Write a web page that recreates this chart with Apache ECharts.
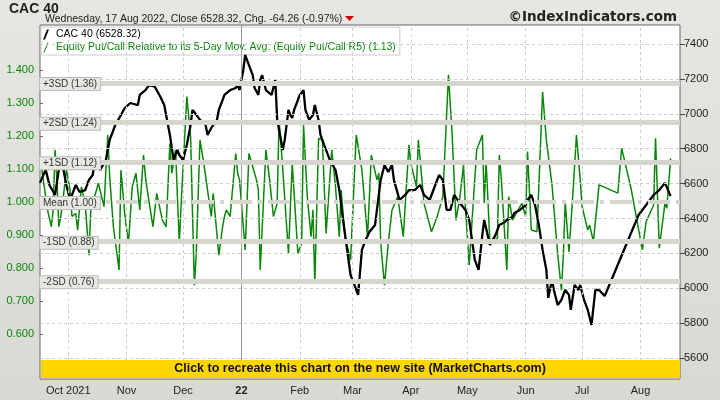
<!DOCTYPE html>
<html><head><meta charset="utf-8">
<script src="https://cdn.jsdelivr.net/npm/echarts@6/dist/echarts.min.js"></script>
<style>html,body{margin:0;padding:0;}#c{width:720px;height:400px;}</style>
</head><body><div id="c"></div>
<script>
// Day offsets relative to 2021-10-01
const cacDays = [-15,-12,-10,-7,-5,-3,-1,1,4,6,9,11,13,14,17,20,22,25,28,30,33,37,38,41,43,46,49,51,54,56,58,59,61,63,65,66,67,70,73,74,76,79,80,82,83,86,89,90,91,93,94,95,98,99,101,102,103,105,106,108,110,111,114,115,117,118,119,120,122,123,125,126,128,130,131,133,134,136,139,142,144,146,150,152,154,156,158,160,163,166,168,170,172,173,176,179,181,184,187,189,192,195,197,199,201,203,205,208,211,213,216,218,220,221,224,227,229,232,233,236,237,240,243,244,246,248,250,252,254,255,257,258,260,262,264,266,267,269,271,272,274,276,278,280,282,285,293,303,309,311,314,317,320];
const cacValues = [6604,6680,6592,6535,6680,6707,6592,6506,6592,6552,6563,6621,6649,6718,6678,6735,6850,6936,6993,7033,7062,7050,7108,7136,7165,7155,7096,7050,6879,6735,6793,6764,6735,6821,6936,7022,7010,6965,6936,6879,6919,6965,7022,7079,7108,7136,7148,7165,7136,7251,7337,7308,7222,7148,7108,7194,7222,7136,7125,7108,7194,6965,6793,6850,7022,6993,6976,7022,7079,7108,7136,7022,6965,6993,7050,6965,6879,6821,6735,6678,6563,6392,6076,6019,5962,6220,6277,6323,6363,6621,6707,6667,6707,6621,6506,6535,6563,6563,6592,6535,6506,6592,6649,6621,6449,6449,6535,6489,6449,6392,6162,6105,6306,6392,6248,6306,6363,6380,6392,6409,6432,6449,6477,6506,6535,6477,6363,6220,6105,5945,6048,5990,5904,5933,5990,5962,5876,6019,5990,6019,5933,5876,5790,5990,5990,5956,6162,6420,6506,6535,6563,6604,6528];
const pcDays = [-14,-12,-11,-9,-8,-7,-6,-5,-4,-3,-1,1,2,4,5,7,9,11,12,14,16,19,21,22,24,27,28,30,32,34,36,38,40,41,42,45,47,50,52,54,55,57,59,60,63,65,67,68,70,72,74,76,77,80,82,83,84,86,89,90,91,94,96,97,100,101,102,105,107,109,111,112,114,117,119,122,124,125,127,129,130,131,133,135,137,140,142,144,145,147,150,153,156,159,161,164,165,166,168,170,172,175,176,178,181,182,185,186,189,193,196,199,202,204,206,208,210,211,213,217,220,221,222,224,228,229,230,233,234,236,241,243,244,246,249,250,252,254,257,260,262,263,264,266,268,270,272,273,276,277,279,282,292,294,299,305,307,311,312,314,317,318,320];
const pcValues = [1.097,1.016,0.976,0.925,0.976,1.158,1.067,0.925,0.956,0.996,1.097,1.036,0.956,0.966,0.915,1.046,0.996,0.839,0.976,1.016,1.057,0.986,1.203,1.077,0.925,0.794,1.097,0.966,0.875,1.046,1.087,0.976,1.142,1.077,1.036,0.925,1.026,0.945,0.925,1.178,1.087,1.158,0.875,0.996,1.319,1.198,0.748,0.844,1.188,1.117,1.036,0.956,1.026,0.839,0.925,0.956,0.976,0.956,1.147,1.087,1.067,0.855,1.147,1.153,1.067,1.036,0.794,1.158,1.067,0.956,0.996,1.248,1.097,0.844,1.117,0.844,0.875,1.233,1.016,0.895,0.976,0.754,1.193,1.188,0.905,1.158,1.046,0.895,1.036,0.895,0.824,1.203,1.097,0.895,1.142,1.067,1.087,0.875,0.748,0.875,0.976,1.016,0.976,0.895,1.173,1.117,1.046,1.188,0.996,0.910,0.956,1.016,1.385,1.198,0.945,1.011,1.112,0.986,0.809,1.158,1.203,0.996,1.122,0.880,0.890,1.142,1.077,0.794,1.016,0.945,0.996,0.956,1.153,0.915,0.910,1.046,1.334,1.188,1.052,0.844,0.733,0.834,1.001,0.849,1.016,1.203,1.067,0.986,0.915,0.930,0.880,1.052,1.027,1.163,1.041,0.855,0.940,0.991,1.193,0.860,0.996,0.981,1.132];
const sdLevels = [1.36,1.24,1.12,0.88,0.76];
const sdLabels = ['+3SD (1.36)','+2SD (1.24)','+1SD (1.12)','-1SD (0.88)','-2SD (0.76)'];
const leftTicks = [0.6,0.7,0.8,0.9,1.0,1.1,1.2,1.3,1.4];
const rightTicks = [5600,5800,6000,6200,6400,6600,6800,7000,7200,7400];
const monthStarts = ['2021-10-01','2021-11-01','2021-12-01','2022-01-01','2022-02-01','2022-03-01','2022-04-01','2022-05-01','2022-06-01','2022-07-01','2022-08-01'];
const monthLabels = ['Oct 2021','Nov','Dec','22','Feb','Mar','Apr','May','Jun','Jul','Aug'];

const base = Date.UTC(2021,9,1), DAY = 86400000;
const toTs = d => base + d*DAY;
const cacData = cacDays.map((d,i)=>[toTs(d), cacValues[i]]);
const pcData = pcDays.map((d,i)=>[toTs(d), pcValues[i]]);
const monthTs = monthStarts.map(s=>Date.parse(s+'T00:00:00Z'));
const F = 'Liberation Sans, Arial, sans-serif';
const GREEN = '#0a870a';

const chart = echarts.init(document.getElementById('c'));
chart.setOption({
  animation:false,
  backgroundColor:{type:'linear',x:0,y:0,x2:0,y2:1,colorStops:[{offset:0,color:'#e6e6e2'},{offset:1,color:'#d8d8d4'}]},
  grid:{left:40,right:40,top:25,bottom:21,show:true,backgroundColor:'#ffffff',borderColor:'#666666',borderWidth:1},
  title:[
    {text:'CAC 40',left:4,top:-3,textStyle:{fontFamily:F,fontSize:14,fontWeight:'bold',color:'#222'}},
    {text:'Wednesday, 17 Aug 2022, Close 6528.32, Chg. -64.26 (-0.97%)',left:40,top:9,textStyle:{fontFamily:F,fontSize:10.5,fontWeight:'normal',color:'#222'}},
    {text:'©IndexIndicators.com',right:38,top:5,textStyle:{fontFamily:'DejaVu Sans',fontSize:13.5,fontWeight:'bold',color:'#222'}}
  ],
  legend:{left:41,top:27,orient:'vertical',itemGap:2,itemWidth:10,itemHeight:10,padding:[2,4,2,2],
    backgroundColor:'#ffffff',borderColor:'#cccccc',borderWidth:1,
    textStyle:{fontFamily:F,fontSize:10.5},
    data:[
      {name:'CAC 40 (6528.32)',icon:'path://M0,10 L4,0 L6,0 L2,10 Z',itemStyle:{color:'#000'},textStyle:{color:'#000'}},
      {name:'Equity Put/Call Relative to its 5-Day Mov. Avg. (Equity Put/Call R5) (1.13)',icon:'path://M0,10 L4,0 L5,0 L1,10 Z',itemStyle:{color:GREEN},textStyle:{color:GREEN}}
    ]},
  xAxis:{type:'value',min:Date.UTC(2021,8,16),max:Date.UTC(2022,7,22),
    splitLine:{show:false},axisLine:{show:false},axisTick:{show:false},
    axisLabel:{customValues:monthTs,hideOverlap:false,margin:6,fontFamily:F,fontSize:11,color:'#222',
      formatter:(v)=>{const i=monthTs.indexOf(v);const t=i>=0?monthLabels[i]:'';return t==='22'?'{b|22}':t;},
      rich:{b:{fontWeight:'bold',fontFamily:F,fontSize:11,color:'#222'}}}},
  yAxis:[
    {type:'value',position:'left',min:0.464,max:1.536,splitLine:{show:false},
     axisLine:{show:false},axisTick:{show:true,customValues:leftTicks,length:3,inside:true,lineStyle:{color:'#666'}},
     axisLabel:{customValues:leftTicks,formatter:v=>v.toFixed(3),color:GREEN,fontFamily:F,fontSize:11,margin:6}},
    {type:'value',position:'right',min:5480,max:7509,splitLine:{show:false},
     axisLine:{show:false},axisTick:{show:true,customValues:rightTicks,length:5,lineStyle:{color:'#444'}},
     axisLabel:{customValues:rightTicks,formatter:v=>String(v),color:'#222',fontFamily:F,fontSize:11,margin:4}}
  ],
  graphic:[
    {type:'polygon',shape:{points:[[345,16],[354,16],[349.5,21]]},style:{fill:'#cc0000'}},
    {type:'rect',shape:{x:41,y:360,width:639,height:18},style:{fill:'#ffd700'},z:100},
    {type:'text',x:360,y:369,style:{text:'Click to recreate this chart on the new site (MarketCharts.com)',fill:'#111',font:'bold 12.5px "Liberation Sans"',align:'center',verticalAlign:'middle'},z:101}
  ],
  series:[
    {type:'line',name:'grid',yAxisIndex:1,data:[],silent:true,
     markLine:{symbol:'none',silent:true,label:{show:false},animation:false,
       data:rightTicks.map(v=>({yAxis:v,lineStyle:{color:'#cccccc',type:[3,3],width:1}}))
         .concat(monthTs.map((t,i)=>({xAxis:t,lineStyle:monthLabels[i]==='22'?{color:'#999999',type:'solid',width:1}:{color:'#cccccc',type:[3,3],width:1}})))}},
    {type:'line',name:'bands',yAxisIndex:0,data:[],silent:true,
     markLine:{symbol:'none',silent:true,animation:false,
       data:sdLevels.map((v,i)=>({yAxis:v,lineStyle:{color:'#d6d6ce',width:5,type:'solid'},
         label:{show:true,position:'insideStartTop',distance:[0,-7],formatter:sdLabels[i],fontFamily:F,fontSize:10,color:'#333',backgroundColor:'#e8e8e2',borderColor:'#bbb',borderWidth:1,padding:[1,3]}}))
       .concat([{yAxis:1.0,lineStyle:{color:'#d6d6ce',width:4,type:[22,6,4,6]},
         label:{show:true,position:'insideStartTop',distance:[0,-7],formatter:'Mean (1.00)',fontFamily:F,fontSize:10,color:'#333',backgroundColor:'#e8e8e2',borderColor:'#bbb',borderWidth:1,padding:[1,3]}}])}},
    {type:'line',name:'Equity Put/Call Relative to its 5-Day Mov. Avg. (Equity Put/Call R5) (1.13)',yAxisIndex:0,data:pcData,showSymbol:false,
     lineStyle:{color:GREEN,width:1.5},itemStyle:{color:GREEN},z:3},
    {type:'line',name:'CAC 40 (6528.32)',yAxisIndex:1,data:cacData,showSymbol:false,
     lineStyle:{color:'#000',width:2.3},itemStyle:{color:'#000'},z:4}
  ]
});
</script></body></html>
